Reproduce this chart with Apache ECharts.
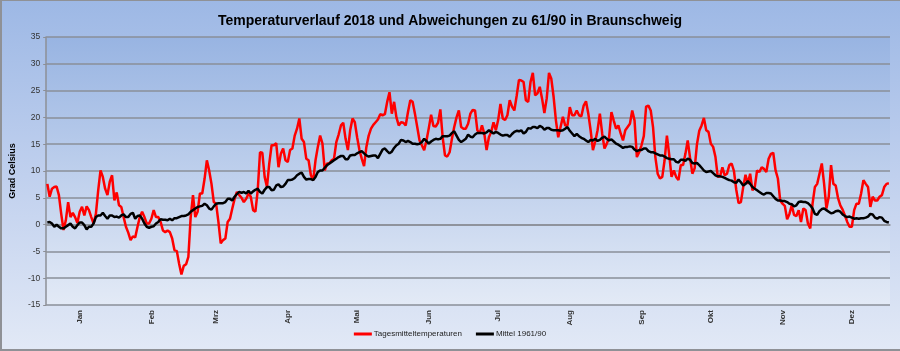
<!DOCTYPE html>
<html>
<head>
<meta charset="utf-8">
<script src="https://cdn.jsdelivr.net/npm/echarts@6/dist/echarts.min.js"></script>
<style>
  html, body { margin: 0; padding: 0; }
  #wrap { position: relative; width: 900px; height: 351px;
          background: linear-gradient(to bottom, #9db8e5 0%, #c0d0ee 50%, #e2e9f6 100%); }
  #chart { width: 900px; height: 351px; }
  #frame { position: absolute; left: 0; top: 0; width: 900px; height: 351px; box-sizing: border-box;
           border-left: 2px solid #8f9196; border-top: 1px solid #8f9196; border-bottom: 2px solid #8f9196;
           pointer-events: none; }
</style>
</head>
<body>
<div id="wrap"><div id="chart"></div><div id="frame"></div></div>
<script>
// Monate und Tageszahl 2018
const monthNames = ['Jan', 'Feb', 'Mrz', 'Apr', 'Mai', 'Jun', 'Jul', 'Aug', 'Sep', 'Okt', 'Nov', 'Dez'];
const monthDays = [31, 28, 31, 30, 31, 30, 31, 31, 30, 31, 30, 31];
const yTicks = { min: -15, max: 35, step: 5 };

// Tagesmitteltemperaturen 2018
const tagesmittel = [
  7.6, 5.2, 6.7, 7.0, 7.1, 5.5, 2.0, -1.0, 0.8, 4.2,
  1.4, 2.2, 1.4, 0.3, 2.4, 3.3, 1.7, 3.4, 2.7, 1.4,
  0.2, 2.0, 6.4, 10.1, 8.9, 6.7, 5.5, 8.0, 9.2, 4.5,
  6.0, 3.6, 3.3, 1.4, -0.4, -1.5, -2.9, -2.2, -2.4, -0.4,
  1.4, 2.4, 1.4, 0.2, 0.2, 1.1, 2.7, 1.4, 1.4, 0.5,
  -1.1, -1.4, -1.1, -1.4, -2.6, -4.8, -4.9, -7.3, -9.3, -7.7,
  -7.4, -6.0, 1.4, 5.5, 1.4, 2.4, 5.8, 5.8, 8.5, 12.0,
  10.1, 7.6, 4.2, 3.9, 0.5, -3.5, -2.9, -2.6, 0.5, 1.1,
  3.0, 4.8, 6.1, 5.5, 5.0, 4.2, 4.8, 5.8, 5.2, 2.7,
  2.4, 6.4, 13.5, 13.4, 8.9, 7.0, 11.4, 14.8, 14.8, 15.2,
  10.7, 13.2, 14.2, 12.0, 11.7, 13.9, 14.2, 16.6, 17.9, 19.8,
  16.0, 15.4, 12.3, 12.0, 9.2, 8.3, 12.0, 14.5, 16.6, 15.1,
  10.1, 11.4, 11.4, 12.0, 12.3, 15.4, 16.8, 18.5, 19.0, 16.0,
  13.9, 17.6, 19.8, 19.1, 16.3, 13.9, 12.3, 10.9, 14.5, 16.6,
  17.9, 18.6, 19.1, 19.6, 20.6, 20.4, 20.6, 22.9, 24.7, 20.7,
  22.9, 20.0, 18.5, 19.1, 19.0, 18.5, 21.0, 23.2, 22.9, 20.7,
  18.2, 15.7, 14.8, 13.9, 15.7, 18.0, 20.5, 18.4, 18.3, 19.0,
  21.5, 16.3, 12.9, 12.7, 13.5, 16.0, 18.2, 20.0, 21.3, 18.2,
  17.9, 17.9, 18.8, 20.7, 21.4, 21.3, 17.6, 17.0, 18.5, 17.0,
  13.9, 16.3, 17.3, 19.1, 17.6, 19.5, 22.5, 19.8, 19.5, 20.4,
  23.2, 22.0, 21.3, 24.0, 27.0, 26.9, 26.6, 23.2, 22.9, 26.6,
  28.3, 24.1, 24.5, 25.7, 23.5, 20.8, 23.5, 28.3, 27.2, 23.8,
  19.4, 16.3, 18.2, 20.1, 18.5, 18.5, 21.9, 20.4, 20.4, 21.3,
  20.4, 20.2, 22.2, 23.0, 20.7, 17.6, 13.9, 15.5, 17.6, 20.7,
  17.0, 14.2, 15.1, 16.3, 21.0, 19.4, 17.9, 18.5, 17.0, 15.7,
  17.6, 18.2, 18.8, 21.3, 19.4, 12.6, 13.5, 14.8, 16.5, 22.0,
  22.2, 21.3, 18.2, 12.6, 9.5, 8.6, 8.9, 12.0, 16.6, 13.0,
  8.9, 10.1, 8.9, 8.3, 11.1, 11.1, 13.2, 15.7, 12.5, 9.5,
  10.5, 15.0, 17.5, 18.5, 19.9, 17.6, 17.3, 15.1, 14.5, 12.6,
  8.9, 9.0, 10.7, 9.2, 9.5, 11.1, 11.4, 10.0, 6.5, 4.0,
  4.2, 7.0, 9.3, 7.6, 9.5, 6.4, 7.0, 10.1, 9.8, 10.7,
  10.4, 9.8, 12.3, 13.2, 13.4, 10.1, 8.6, 4.5, 3.9, 3.5,
  1.0, 2.0, 3.6, 1.8, 1.6, 2.7, 0.5, 3.0, 2.7, 0.2,
  -0.7, 3.9, 7.0, 7.6, 9.5, 11.4, 7.6, 3.0, 5.2, 11.1,
  7.6, 7.3, 5.0, 3.6, 2.8, 1.7, 0.5, -0.4, -0.4, 2.7,
  3.9, 3.9, 5.8, 8.3, 7.6, 7.0, 3.3, 5.2, 4.5, 4.5,
  5.2, 5.5, 7.0, 7.6, 7.7
];

// Mittel 1961/90
const mittel6190 = [
  0.4, 0.5, 0.2, -0.4, 0.0, -0.4, -0.7, -0.7, -0.4, -0.1,
  0.2, -0.4, -0.7, -0.1, 0.4, 0.4, -0.1, -0.9, -0.4, -0.4,
  0.2, 1.4, 1.7, 1.7, 2.2, 1.6, 1.1, 1.7, 1.7, 1.4,
  1.5, 1.3, 1.7, 1.9, 1.4, 1.4, 2.0, 2.2, 1.1, 1.6,
  1.7, 1.1, 0.2, -0.4, -0.6, -0.4, -0.3, 0.2, 0.5, 1.0,
  0.9, 0.9, 0.8, 1.1, 0.8, 1.2, 1.2, 1.4, 1.6, 1.6,
  1.7, 1.9, 2.4, 2.7, 3.0, 3.3, 3.4, 3.5, 3.9, 3.6,
  3.0, 2.8, 3.4, 3.9, 4.0, 4.0, 4.0, 4.2, 4.8, 4.8,
  4.5, 5.2, 5.7, 6.1, 5.9, 6.1, 5.8, 6.3, 5.8, 6.2,
  6.5, 6.7, 6.1, 5.8, 6.5, 7.0, 7.0, 6.4, 6.5, 7.3,
  7.5, 7.0, 7.1, 7.6, 8.3, 8.3, 8.4, 8.7, 9.2, 9.5,
  9.7, 8.9, 8.4, 8.5, 8.5, 8.3, 8.9, 9.8, 10.1, 10.1,
  10.6, 11.1, 11.4, 11.7, 12.0, 12.3, 12.6, 12.8, 12.8, 12.2,
  12.2, 12.9, 13.0, 13.0, 13.3, 13.5, 13.7, 13.3, 12.9, 12.7,
  12.8, 12.9, 12.9, 12.4, 13.2, 14.0, 14.2, 13.7, 13.3, 13.6,
  14.3, 14.8, 15.1, 15.8, 15.7, 15.4, 15.6, 15.4, 15.1, 15.1,
  15.0, 15.1, 15.4, 16.0, 15.6, 15.1, 15.5, 15.8, 16.0, 15.9,
  16.0, 16.5, 16.5, 16.5, 16.6, 17.1, 17.4, 16.6, 15.8, 15.4,
  15.7, 16.0, 16.8, 16.4, 16.3, 16.8, 17.1, 17.1, 17.1, 17.0,
  17.2, 17.6, 17.3, 17.0, 17.3, 17.1, 16.8, 16.6, 16.7, 16.7,
  16.4, 16.9, 17.3, 17.5, 17.4, 17.6, 17.0, 17.3, 18.0, 17.9,
  18.2, 18.2, 18.0, 18.4, 18.2, 17.7, 18.0, 18.0, 17.7, 17.6,
  17.6, 17.6, 17.5, 17.6, 17.9, 18.2, 17.5, 17.0, 16.5, 16.9,
  16.5, 16.2, 16.0, 15.7, 15.4, 15.8, 15.7, 16.0, 15.6, 15.8,
  16.2, 16.4, 16.0, 15.7, 15.9, 15.5, 15.1, 14.9, 14.6, 14.3,
  14.5, 14.5, 14.6, 14.5, 14.0, 13.7, 13.9, 13.9, 14.2, 14.2,
  13.7, 13.5, 13.5, 13.3, 13.1, 12.9, 12.9, 12.7, 12.4, 12.3,
  12.2, 12.2, 11.7, 11.6, 12.1, 12.1, 11.9, 12.3, 12.1, 11.5,
  11.4, 11.5, 11.1, 10.6, 10.1, 9.8, 9.9, 10.0, 9.6, 9.2,
  9.0, 9.0, 8.9, 8.7, 8.5, 8.3, 8.2, 7.9, 7.8, 8.4,
  7.9, 7.3, 7.6, 8.1, 7.6, 7.0, 6.7, 6.4, 6.1, 5.8,
  5.6, 5.9, 5.9, 5.8, 5.3, 4.8, 4.5, 4.5, 4.4, 4.4,
  4.2, 3.9, 3.8, 3.4, 3.6, 4.2, 4.3, 4.2, 4.2, 4.0,
  3.6, 3.0, 2.0, 1.8, 2.5, 2.9, 3.0, 2.7, 2.4, 2.1,
  2.2, 2.5, 2.6, 2.4, 1.9, 1.6, 1.4, 1.5, 1.3, 1.1,
  1.2, 1.1, 1.2, 1.2, 1.3, 1.5, 2.0, 1.9, 1.3, 1.1,
  1.4, 1.3, 0.7, 0.5, 0.4
];

// Kategorien: ein Eintrag pro Tag, "Monat|Tag"
const days = [];
monthDays.forEach((n, m) => {
  for (let d = 1; d <= n; d++) days.push(m + '|' + d);
});

const font = '"Liberation Sans", Arial, sans-serif';
const chart = echarts.init(document.getElementById('chart'));

chart.setOption({
  backgroundColor: 'transparent',
  animation: false,
  title: {
    text: 'Temperaturverlauf 2018 und Abweichungen zu 61/90 in Braunschweig',
    left: 'center',
    top: 9,
    textStyle: { fontFamily: font, fontSize: 14, fontWeight: 'bold', color: '#000' }
  },
  grid: {
    left: 43, right: 10, top: 37, bottom: 46,
    show: true,
    borderWidth: 0,
    backgroundColor: {
      type: 'linear', x: 0, y: 0, x2: 0, y2: 1,
      colorStops: [{ offset: 0, color: '#98b4e2' }, { offset: 1, color: '#e3eaf6' }]
    }
  },
  legend: {
    bottom: 8,
    left: 'center',
    icon: 'rect',
    itemWidth: 18,
    itemHeight: 3,
    itemGap: 14,
    textStyle: { fontFamily: font, fontSize: 8, color: '#222', padding: [0, 0, 0, -3] },
    data: ['Tagesmitteltemperaturen', 'Mittel 1961/90']
  },
  xAxis: {
    type: 'category',
    data: days,
    boundaryGap: true,
    axisLine: { lineStyle: { color: '#8c8f96', width: 1.5 } },
    axisTick: { interval: 1, length: 3, lineStyle: { color: '#8c8f96' } },
    axisLabel: {
      rotate: 90,
      interval: (i, v) => v.split('|')[1] === '15',
      formatter: v => monthNames[+v.split('|')[0]],
      fontFamily: font, fontSize: 8, fontWeight: 'bold', color: '#333', margin: 5
    },
    splitLine: { show: false }
  },
  yAxis: {
    type: 'value',
    min: yTicks.min,
    max: yTicks.max,
    interval: yTicks.step,
    name: 'Grad Celsius',
    nameLocation: 'middle',
    nameGap: 26,
    nameRotate: 90,
    nameTextStyle: { fontFamily: font, fontSize: 9, fontWeight: 'bold', color: '#000' },
    axisLine: { show: true, lineStyle: { color: '#8c8f96', width: 1.5 } },
    axisTick: { show: true, length: 3, lineStyle: { color: '#8c8f96' } },
    axisLabel: { fontFamily: font, fontSize: 8.5, color: '#333', margin: 6 },
    splitLine: { lineStyle: { color: '#8a8f99', width: 1.5 } }
  },
  series: [
    {
      name: 'Tagesmitteltemperaturen',
      type: 'line',
      data: tagesmittel,
      showSymbol: false,
      color: '#ff0000',
      lineStyle: { color: '#ff0000', width: 2.5 }
    },
    {
      name: 'Mittel 1961/90',
      type: 'line',
      data: mittel6190,
      showSymbol: false,
      color: '#000000',
      lineStyle: { color: '#000000', width: 2.5 }
    }
  ]
});
</script>
</body>
</html>
